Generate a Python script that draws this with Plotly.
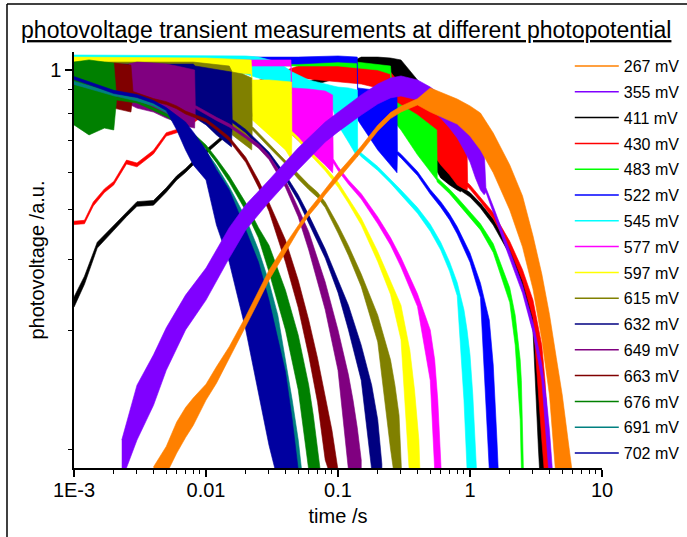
import plotly.graph_objects as go

FONT = "Liberation Sans, Arial, sans-serif"

labels = ["267 mV", "355 mV", "411 mV", "430 mV", "483 mV", "522 mV", "545 mV", "577 mV",
          "597 mV", "615 mV", "632 mV", "649 mV", "663 mV", "676 mV", "691 mV", "702 mV"]
colors = ["#FF8000", "#8000FF", "#000000", "#FF0000", "#00FF00", "#0000FF", "#00FFFF", "#FF00FF",
          "#FFFF00", "#808000", "#000080", "#800080", "#800000", "#008000", "#008080", "#0000A0"]

# time (s), upper and lower envelope of the noisy normalized photovoltage (a.u.)
t_267 = [0.004, 0.005, 0.006, 0.007, 0.008, 0.01, 0.012, 0.015, 0.02, 0.025, 0.03, 0.04, 0.05, 0.06, 0.07,
         0.08, 0.1, 0.12, 0.15, 0.2, 0.25, 0.3, 0.4, 0.5, 0.8, 1.0, 1.2, 1.5, 2.0, 2.5, 3.0, 3.5, 4.0, 4.5,
         5.0, 5.5, 5.9]
hi_267 = [0.140, 0.155, 0.175, 0.188, 0.197, 0.211, 0.230, 0.254, 0.295, 0.334, 0.371, 0.422, 0.465, 0.500,
          0.528, 0.555, 0.601, 0.637, 0.686, 0.761, 0.810, 0.836, 0.867, 0.915, 0.866, 0.837, 0.808, 0.732,
          0.625, 0.536, 0.440, 0.364, 0.298, 0.241, 0.200, 0.162, 0.139]
lo_267 = [0.131, 0.135, 0.150, 0.162, 0.172, 0.195, 0.212, 0.238, 0.281, 0.318, 0.353, 0.406, 0.451, 0.486,
          0.512, 0.539, 0.583, 0.619, 0.666, 0.739, 0.786, 0.812, 0.841, 0.812, 0.765, 0.721, 0.673, 0.601,
          0.500, 0.416, 0.338, 0.263, 0.200, 0.131, 0.131, 0.131, 0.131]

t_355 = [0.0023, 0.003, 0.004, 0.005, 0.007, 0.01, 0.015, 0.02, 0.03, 0.05, 0.08, 0.1, 0.15, 0.2, 0.25, 0.3,
         0.4, 0.5, 0.6, 0.7, 0.8, 0.9, 1.0, 1.1, 1.2, 1.28, 1.32, 1.5, 2.0, 2.5, 3.0, 3.5, 3.8, 4.0, 4.2]
hi_355 = [0.160, 0.210, 0.244, 0.279, 0.328, 0.375, 0.458, 0.513, 0.580, 0.680, 0.773, 0.812, 0.884, 0.933,
          0.961, 0.971, 0.952, 0.919, 0.884, 0.849, 0.812, 0.781, 0.750, 0.725, 0.700, 0.673, 0.558, 0.509,
          0.407, 0.345, 0.287, 0.233, 0.195, 0.168, 0.139]
lo_355 = [0.131, 0.160, 0.190, 0.226, 0.276, 0.320, 0.394, 0.453, 0.520, 0.610, 0.700, 0.736, 0.800, 0.845,
          0.871, 0.879, 0.862, 0.828, 0.788, 0.750, 0.714, 0.673, 0.634, 0.586, 0.552, 0.539, 0.546, 0.497,
          0.393, 0.331, 0.273, 0.215, 0.160, 0.131, 0.131]

t_411 = [0.001, 0.0012, 0.0015, 0.002, 0.0025, 0.003, 0.004, 0.005, 0.006, 0.007, 0.008, 0.01, 0.015, 0.02,
         0.03, 0.05, 0.1, 0.15, 0.2, 0.25, 0.3, 0.4, 0.5, 0.6, 0.7, 0.8, 0.85, 0.86, 1.0, 1.2, 1.5, 2.0, 2.5,
         3.0, 3.3, 3.4, 3.6, 3.8]
hi_411 = [0.325, 0.360, 0.426, 0.464, 0.496, 0.521, 0.524, 0.558, 0.592, 0.614, 0.637, 0.674, 0.743, 0.791,
          0.852, 0.922, 1.010, 1.066, 1.066, 1.061, 1.051, 0.952, 0.862, 0.812, 0.762, 0.714, 0.690, 0.561,
          0.545, 0.517, 0.478, 0.417, 0.359, 0.305, 0.256, 0.226, 0.177, 0.139]
lo_411 = [0.309, 0.346, 0.414, 0.452, 0.484, 0.509, 0.512, 0.546, 0.580, 0.602, 0.625, 0.662, 0.731, 0.779,
          0.838, 0.908, 0.961, 0.990, 0.980, 0.952, 0.884, 0.781, 0.641, 0.586, 0.566, 0.552, 0.547, 0.549,
          0.533, 0.505, 0.464, 0.401, 0.339, 0.276, 0.153, 0.131, 0.131, 0.131]

t_430 = [0.001, 0.0012, 0.0014, 0.0017, 0.002, 0.0025, 0.003, 0.004, 0.005, 0.006, 0.007, 0.01, 0.015, 0.02,
         0.03, 0.05, 0.1, 0.15, 0.2, 0.25, 0.3, 0.4, 0.5, 0.6, 0.7, 0.8, 0.9, 0.95, 0.96, 1.0, 1.2, 1.5, 2.0,
         2.5, 3.0, 3.5, 3.7, 3.9, 4.0]
hi_430 = [0.473, 0.475, 0.520, 0.555, 0.576, 0.640, 0.631, 0.672, 0.733, 0.745, 0.762, 0.814, 0.881, 0.925,
          0.970, 1.020, 1.020, 1.020, 1.010, 0.990, 0.928, 0.871, 0.837, 0.800, 0.762, 0.725, 0.690, 0.673,
          0.572, 0.566, 0.533, 0.493, 0.428, 0.372, 0.320, 0.256, 0.215, 0.168, 0.139]
lo_430 = [0.465, 0.467, 0.510, 0.545, 0.566, 0.628, 0.619, 0.660, 0.721, 0.733, 0.750, 0.802, 0.869, 0.913,
          0.952, 0.961, 0.942, 0.933, 0.915, 0.841, 0.762, 0.725, 0.673, 0.625, 0.595, 0.566, 0.555, 0.552,
          0.560, 0.554, 0.521, 0.479, 0.412, 0.352, 0.293, 0.160, 0.131, 0.131, 0.131]

t_483 = [0.001, 0.05, 0.1, 0.2, 0.25, 0.26, 0.3, 0.4, 0.5, 0.56, 0.565, 0.6, 0.7, 0.8, 1.0, 1.2, 1.5, 2.0,
         2.2, 2.4, 2.45, 2.5, 2.55]
hi_483 = [1.061, 1.061, 1.051, 1.030, 1.020, 0.862, 0.841, 0.800, 0.762, 0.743, 0.586, 0.577, 0.554, 0.532,
          0.496, 0.467, 0.423, 0.340, 0.297, 0.238, 0.215, 0.177, 0.138]
lo_483 = [1.020, 1.020, 1.020, 1.000, 0.980, 0.781, 0.743, 0.657, 0.604, 0.580, 0.574, 0.565, 0.542, 0.518,
          0.482, 0.453, 0.405, 0.316, 0.256, 0.177, 0.138, 0.131, 0.131]

t_522 = [0.001, 0.05, 0.1, 0.14, 0.141, 0.2, 0.25, 0.28, 0.282, 0.3, 0.4, 0.5, 0.6, 0.7, 0.8, 1.0, 1.2, 1.4,
         1.5, 1.6, 1.65]
hi_522 = [1.066, 1.066, 1.072, 1.066, 0.915, 0.906, 0.897, 0.884, 0.669, 0.659, 0.605, 0.553, 0.521, 0.490,
          0.460, 0.404, 0.348, 0.290, 0.232, 0.160, 0.138]
lo_522 = [1.030, 1.030, 1.040, 1.035, 0.781, 0.673, 0.625, 0.601, 0.657, 0.647, 0.593, 0.541, 0.507, 0.476,
          0.444, 0.386, 0.324, 0.138, 0.131, 0.131, 0.131]

t_545 = [0.001, 0.02, 0.025, 0.035, 0.045, 0.06, 0.092, 0.1, 0.12, 0.14, 0.141, 0.15, 0.2, 0.25, 0.3, 0.4,
         0.5, 0.6, 0.7, 0.8, 0.9, 0.95, 1.0, 1.05, 1.1, 1.13]
hi_545 = [1.077, 1.072, 1.066, 1.040, 0.990, 0.952, 0.924, 0.919, 0.915, 0.906, 0.676, 0.663, 0.620, 0.583,
          0.552, 0.506, 0.466, 0.426, 0.387, 0.349, 0.305, 0.276, 0.244, 0.200, 0.160, 0.138]
lo_545 = [0.990, 0.980, 0.961, 0.928, 0.897, 0.862, 0.820, 0.762, 0.700, 0.650, 0.664, 0.651, 0.608, 0.571,
          0.538, 0.492, 0.450, 0.410, 0.369, 0.327, 0.195, 0.138, 0.131, 0.131, 0.131, 0.131]

t_577 = [0.001, 0.044, 0.0447, 0.06, 0.08, 0.091, 0.092, 0.1, 0.12, 0.15, 0.2, 0.25, 0.3, 0.4, 0.5, 0.54,
         0.57, 0.6, 0.61]
hi_577 = [1.051, 1.051, 0.915, 0.910, 0.901, 0.884, 0.644, 0.620, 0.580, 0.542, 0.483, 0.436, 0.395, 0.330,
          0.276, 0.238, 0.195, 0.153, 0.138]
lo_577 = [1.020, 1.020, 0.725, 0.673, 0.625, 0.601, 0.632, 0.608, 0.568, 0.528, 0.467, 0.420, 0.377, 0.310,
          0.215, 0.138, 0.131, 0.131, 0.131]

t_597 = [0.001, 0.01, 0.022, 0.0224, 0.03, 0.04, 0.0445, 0.0447, 0.05, 0.06, 0.08, 0.1, 0.12, 0.15, 0.2,
         0.25, 0.3, 0.35, 0.38, 0.41, 0.42]
hi_597 = [1.066, 1.061, 1.051, 0.952, 0.952, 0.947, 0.942, 0.738, 0.717, 0.674, 0.619, 0.574, 0.531, 0.480,
          0.407, 0.351, 0.312, 0.250, 0.205, 0.160, 0.138]
lo_597 = [0.990, 0.990, 0.980, 0.781, 0.725, 0.673, 0.641, 0.726, 0.705, 0.662, 0.607, 0.560, 0.517, 0.464,
          0.387, 0.329, 0.263, 0.131, 0.131, 0.131, 0.131]

t_615 = [0.001, 0.008, 0.015, 0.0158, 0.019, 0.0222, 0.0224, 0.03, 0.04, 0.05, 0.06, 0.07, 0.08, 0.1, 0.12,
         0.15, 0.2, 0.25, 0.27, 0.29, 0.305]
hi_615 = [1.040, 1.040, 1.020, 0.990, 0.980, 0.961, 0.756, 0.694, 0.640, 0.597, 0.567, 0.546, 0.520, 0.464,
          0.419, 0.364, 0.297, 0.238, 0.210, 0.181, 0.139]
lo_615 = [0.980, 0.971, 0.961, 0.725, 0.697, 0.673, 0.744, 0.682, 0.628, 0.583, 0.553, 0.532, 0.506, 0.446,
          0.399, 0.342, 0.260, 0.153, 0.131, 0.131, 0.131]

t_632 = [0.001, 0.008, 0.0083, 0.01, 0.012, 0.0156, 0.0158, 0.02, 0.03, 0.04, 0.05, 0.06, 0.08, 0.1, 0.12,
         0.15, 0.18, 0.2, 0.215]
hi_632 = [1.030, 1.030, 1.020, 1.010, 1.000, 0.990, 0.783, 0.745, 0.666, 0.596, 0.539, 0.488, 0.412, 0.354,
          0.312, 0.256, 0.210, 0.177, 0.142]
lo_632 = [0.961, 0.952, 0.788, 0.762, 0.725, 0.683, 0.771, 0.733, 0.654, 0.582, 0.523, 0.470, 0.394, 0.332,
          0.276, 0.215, 0.138, 0.131, 0.131]

t_649 = [0.0026, 0.003, 0.004, 0.005, 0.006, 0.007, 0.0082, 0.0083, 0.01, 0.012, 0.015, 0.02, 0.025, 0.03,
         0.04, 0.05, 0.06, 0.08, 0.1, 0.12, 0.13, 0.14, 0.15]
hi_649 = [1.030, 1.040, 1.035, 1.030, 1.020, 1.010, 1.000, 0.839, 0.814, 0.791, 0.766, 0.725, 0.693, 0.656,
          0.579, 0.505, 0.449, 0.350, 0.276, 0.221, 0.195, 0.170, 0.145]
lo_649 = [0.845, 0.828, 0.812, 0.788, 0.773, 0.758, 0.750, 0.827, 0.802, 0.779, 0.754, 0.713, 0.679, 0.642,
          0.559, 0.483, 0.410, 0.305, 0.226, 0.138, 0.131, 0.131, 0.131]

t_663 = [0.002, 0.0027, 0.0028, 0.004, 0.005, 0.006, 0.007, 0.008, 0.01, 0.012, 0.015, 0.02, 0.025, 0.03,
         0.04, 0.05, 0.06, 0.07, 0.08, 0.09, 0.1]
hi_663 = [1.035, 1.025, 0.899, 0.868, 0.855, 0.837, 0.816, 0.804, 0.785, 0.755, 0.718, 0.649, 0.579, 0.519,
          0.431, 0.353, 0.290, 0.240, 0.200, 0.168, 0.138]
lo_663 = [0.828, 0.812, 0.886, 0.856, 0.843, 0.825, 0.804, 0.792, 0.773, 0.743, 0.704, 0.633, 0.559, 0.497,
          0.386, 0.308, 0.243, 0.193, 0.145, 0.131, 0.131]

t_676 = [0.001, 0.0013, 0.0017, 0.002, 0.0021, 0.003, 0.004, 0.005, 0.006, 0.007, 0.008, 0.01, 0.012, 0.015,
         0.02, 0.025, 0.03, 0.04, 0.05, 0.06, 0.065, 0.07, 0.075]
hi_676 = [1.040, 1.051, 1.040, 1.035, 0.875, 0.862, 0.830, 0.806, 0.779, 0.755, 0.731, 0.690, 0.646, 0.592,
          0.518, 0.458, 0.420, 0.336, 0.269, 0.210, 0.181, 0.154, 0.134]
lo_676 = [0.762, 0.725, 0.750, 0.743, 0.862, 0.849, 0.818, 0.794, 0.767, 0.743, 0.719, 0.676, 0.632, 0.574,
          0.498, 0.435, 0.368, 0.276, 0.205, 0.138, 0.131, 0.131, 0.131]

t_691 = [0.001, 0.0015, 0.002, 0.003, 0.004, 0.005, 0.006, 0.007, 0.008, 0.01, 0.012, 0.015, 0.02, 0.025,
         0.03, 0.035, 0.04, 0.045, 0.05, 0.053]
hi_691 = [0.945, 0.915, 0.893, 0.871, 0.849, 0.822, 0.791, 0.758, 0.727, 0.670, 0.622, 0.561, 0.481, 0.410,
          0.350, 0.297, 0.238, 0.195, 0.160, 0.138]
lo_691 = [0.931, 0.901, 0.880, 0.858, 0.837, 0.810, 0.779, 0.746, 0.716, 0.657, 0.607, 0.543, 0.431, 0.357,
          0.293, 0.238, 0.186, 0.145, 0.131, 0.131]

t_702 = [0.001, 0.0015, 0.002, 0.003, 0.004, 0.005, 0.006, 0.007, 0.008, 0.01, 0.012, 0.015, 0.02, 0.025,
         0.03, 0.035, 0.04, 0.045, 0.05]
hi_702 = [0.968, 0.931, 0.904, 0.886, 0.860, 0.830, 0.800, 0.773, 0.736, 0.673, 0.610, 0.552, 0.453, 0.386,
          0.320, 0.266, 0.224, 0.177, 0.138]
lo_702 = [0.954, 0.917, 0.890, 0.873, 0.848, 0.818, 0.743, 0.673, 0.625, 0.580, 0.464, 0.386, 0.276, 0.203,
          0.156, 0.131, 0.131, 0.131, 0.131]

x_tickvals = [0.001, 0.01, 0.1, 1, 10]
x_ticktext = ["1E-3", "0.01", "0.1", "1", "10"]
y_tickvals = [1]
y_ticktext = ["1"]
y_minor_vals = [0.906, 0.808, 0.707, 0.603, 0.5, 0.392, 0.275, 0.153]

series = {
    "267 mV": (t_267, hi_267, lo_267), "355 mV": (t_355, hi_355, lo_355),
    "411 mV": (t_411, hi_411, lo_411), "430 mV": (t_430, hi_430, lo_430),
    "483 mV": (t_483, hi_483, lo_483), "522 mV": (t_522, hi_522, lo_522),
    "545 mV": (t_545, hi_545, lo_545), "577 mV": (t_577, hi_577, lo_577),
    "597 mV": (t_597, hi_597, lo_597), "615 mV": (t_615, hi_615, lo_615),
    "632 mV": (t_632, hi_632, lo_632), "649 mV": (t_649, hi_649, lo_649),
    "663 mV": (t_663, hi_663, lo_663), "676 mV": (t_676, hi_676, lo_676),
    "691 mV": (t_691, hi_691, lo_691), "702 mV": (t_702, hi_702, lo_702),
}
color_of = dict(zip(labels, colors))

for k, (t, hi, lo) in series.items():
    assert len(t) == len(hi) == len(lo), k

draw_order = labels[2:] + ["355 mV", "267 mV"]

fig = go.Figure()
for lab in draw_order:
    t, hi, lo = series[lab]
    c = color_of[lab]
    fig.add_trace(go.Scatter(
        x=list(t) + list(t)[::-1], y=list(hi) + list(lo)[::-1],
        mode="lines", fill="toself", fillcolor=c,
        line=dict(color=c, width=0.6), showlegend=False, hoverinfo="skip"))

for lab in labels:
    fig.add_trace(go.Scatter(
        x=[None], y=[None], mode="lines", name=lab, legendgroup=lab,
        line=dict(color=color_of[lab], width=1.5)))

minor_x = [m * 10.0 ** e for e in range(-3, 1) for m in range(2, 10)]

fig.update_layout(
    width=687, height=537,
    margin=dict(l=74, r=85, t=52, b=69, autoexpand=False),
    paper_bgcolor="white", plot_bgcolor="white",
    font=dict(family=FONT, color="black", size=20),
    title=dict(text="photovoltage transient measurements at different photopotential",
               font=dict(family=FONT, size=23, color="black", lineposition="under"),
               x=0.504, xanchor="center", xref="container",
               y=1 - 30 / 537, yanchor="middle", yref="container"),
    showlegend=True,
    hovermode=False,
    legend=dict(x=0.939, xanchor="left", y=1.007, yanchor="top",
                font=dict(family=FONT, size=16, color="black"),
                bgcolor="rgba(0,0,0,0)", borderwidth=0, maxheight=500,
                tracegroupgap=2, itemwidth=44, traceorder="grouped"),
    xaxis=dict(type="log", range=[-3, 1], showline=True, linecolor="black", linewidth=1.5,
               ticks="outside", ticklen=7, tickwidth=1.5, tickcolor="black",
               tickvals=x_tickvals, ticktext=x_ticktext, automargin=False,
               tickfont=dict(family=FONT, size=20), ticklabelstandoff=-4,
               minor=dict(ticks="outside", ticklen=4, tickwidth=1.2, tickcolor="black",
                          tickvals=minor_x, showgrid=False),
               showgrid=False, zeroline=False, mirror=False,
               title=dict(text="time /s", font=dict(family=FONT, size=20), standoff=9)),
    yaxis=dict(type="log", range=[-0.856, 0.0387], showline=True, linecolor="black", linewidth=1.5,
               ticks="outside", ticklen=7, tickwidth=1.5, tickcolor="black",
               tickvals=y_tickvals, ticktext=y_ticktext, automargin=False,
               tickfont=dict(family=FONT, size=20),
               minor=dict(ticks="outside", ticklen=4, tickwidth=1.2, tickcolor="black",
                          tickvals=y_minor_vals, showgrid=False),
               showgrid=False, zeroline=False, mirror=False,
               title=dict(text="photovoltage /a.u.", font=dict(family=FONT, size=20), standoff=0)),
)

# outer frame (top and left edges visible in the reference)
fig.add_shape(type="line", xref="paper", yref="paper", x0=-0.1269, x1=1.2, y0=1.1154, y1=1.1154,
              line=dict(color="black", width=1.5))
fig.add_shape(type="line", xref="paper", yref="paper", x0=-0.1269, x1=-0.1269, y0=1.1154, y1=-0.2,
              line=dict(color="black", width=1.5))

fig.write_html("out.html", config={"displayModeBar": False},
               post_script="document.body.style.margin='0px';")
